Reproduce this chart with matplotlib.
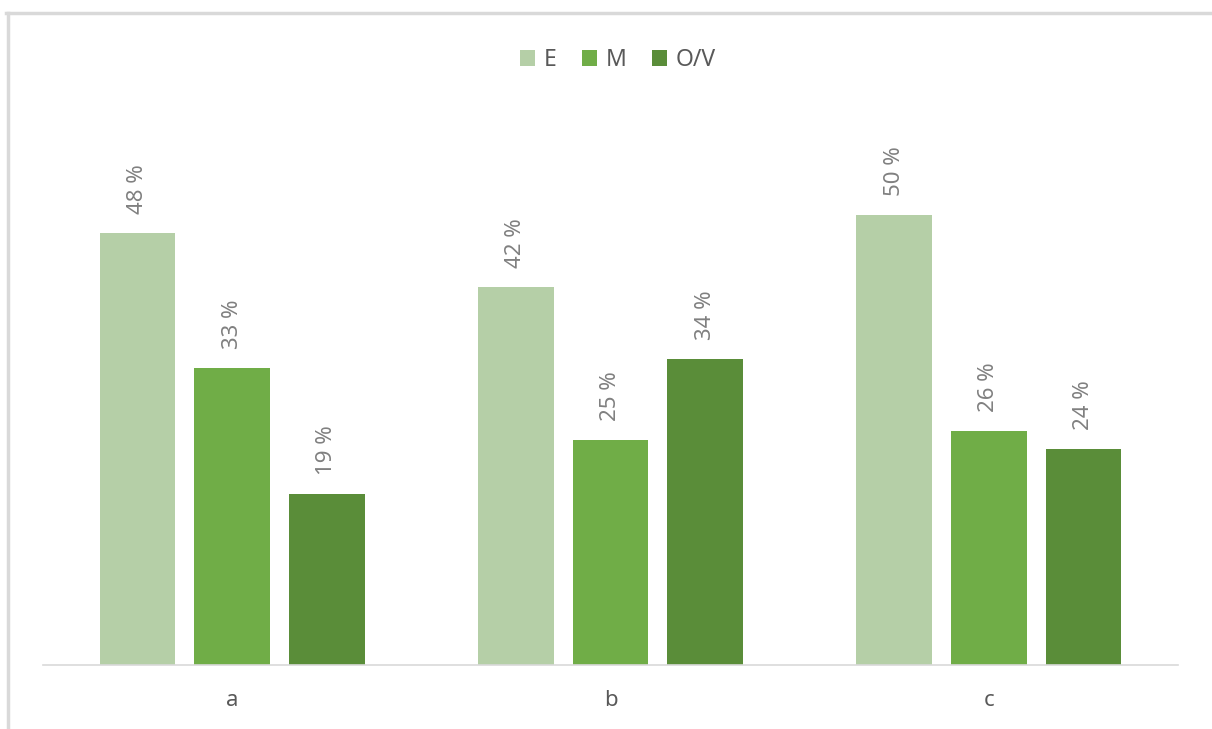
import numpy as np
import matplotlib.pyplot as plt
from matplotlib.lines import Line2D
from matplotlib.patches import Patch

plt.rcParams['font.family'] = ['Noto Sans', 'DejaVu Sans']

categories = ['a', 'b', 'c']
series = ['E', 'M', 'O/V']
values_E = [48, 42, 50]
values_M = [33, 25, 26]
values_OV = [19, 34, 24]
colors = ['#B5CFA7', '#70AD47', '#5A8D39']

fig = plt.figure(figsize=(12.12, 7.29), dpi=100)
ax = fig.add_axes([43 / 1212, 64 / 729, 1135 / 1212, 540 / 729])

x = np.arange(len(categories))
width = 0.2
offsets = [-0.25, 0, 0.25]
for vals, off, col, name in zip([values_E, values_M, values_OV], offsets, colors, series):
    bars = ax.bar(x + off, vals, width, color=col, label=name, zorder=2)
    for b, v in zip(bars, vals):
        ax.annotate(f'{v} %', (b.get_x() + b.get_width() / 2, b.get_height()),
                    xytext=(0, 14), textcoords='offset points',
                    rotation=90, ha='center', va='bottom',
                    fontsize=16, color='#808080')

ax.set_xlim(-0.5, 2.5)
ax.set_ylim(0, 60)
ax.set_yticks([])
ax.set_xticks(x)
ax.set_xticklabels(categories, fontsize=16, color='#595959')
ax.tick_params(axis='x', length=0, pad=18)
for s in ['top', 'right', 'left']:
    ax.spines[s].set_visible(False)
ax.spines['bottom'].set_color('#D9D9D9')
ax.spines['bottom'].set_linewidth(1.2)

handles = [Patch(facecolor=c, edgecolor='none') for c in colors]
fig.legend(handles, series, loc='center', bbox_to_anchor=(618 / 1212, 1 - 60 / 729),
           ncol=3, frameon=False, fontsize=16.5, labelcolor='#595959',
           handlelength=0.65, handleheight=0.65, handletextpad=0.4, columnspacing=1.1)

# light frame on the top and left edges
fig.add_artist(Line2D([7.5 / 1212, 7.5 / 1212], [0, 1 - 12.5 / 729], transform=fig.transFigure,
                      color='#D9D9D9', lw=2.5))
fig.add_artist(Line2D([6 / 1212, 1], [1 - 12.5 / 729, 1 - 12.5 / 729], transform=fig.transFigure,
                      color='#D9D9D9', lw=2.5))

fig.savefig('out.png', dpi=100)
